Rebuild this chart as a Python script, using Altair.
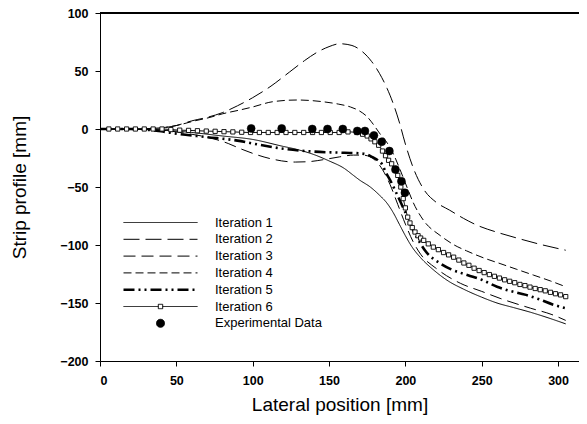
import altair as alt
import pandas as pd

names = ["Iteration 1", "Iteration 2", "Iteration 3", "Iteration 4",
         "Iteration 5", "Iteration 6", "Experimental Data"]

it1_x = [0, 20, 40, 60, 80, 100, 120, 127, 140, 150, 160, 166, 170, 177, 183, 188, 192, 196, 200, 204, 210, 218, 228, 238, 250, 260, 271, 282, 294, 305]
it1_y = [0, -0.3, -1, -3, -6, -9, -15, -17, -22, -27.5, -34, -40, -44, -50, -57, -64, -72, -82, -92, -101, -111, -121, -131, -138, -145, -150, -154, -158, -163, -168]

it2_x = [0, 20, 40, 50, 60, 70, 80, 90, 100, 112, 124, 134, 142, 150, 157, 165, 172, 178, 183, 188, 192, 196, 200, 205, 212, 220, 229, 238, 247, 260, 273, 290, 305]
it2_y = [0, 0, 1, 3, 7, 10, 14, 20, 27, 37, 49, 59, 66, 71, 73.5, 72, 66.5, 58, 48, 35, 22, 6, -13, -33, -52, -63, -70, -77, -83, -89, -94, -100, -104.5]

it3_x = [0, 20, 40, 50, 60, 70, 84, 92, 100, 113, 128, 138, 146, 157, 166, 172, 177, 181, 185, 190, 195, 200, 205, 210, 220, 236, 250, 262, 282, 296, 305]
it3_y = [0, 0, -1, -2.5, -4.5, -7, -12.5, -17, -21, -26, -28.5, -28, -26.5, -24, -22.5, -22.5, -24, -28, -35, -48, -65, -82, -97, -108, -120, -133, -140, -146, -154.5, -160, -165]

it4_x = [0, 20, 40, 50, 62, 72, 80, 92, 100, 113, 129, 146, 156, 164, 170, 175, 179, 183, 187, 190, 193, 196.5, 201, 205, 212, 223, 232, 240, 251, 262, 273, 284, 295, 305]
it4_y = [0, 0, 1, 3, 7, 10, 13, 16.5, 19, 23.5, 25, 23.5, 21.5, 19, 15.5, 10.5, 4, -3.5, -10, -16, -24, -35, -50, -63, -79, -92, -100, -105, -111, -116, -121, -126, -131, -136]

it5_x = [0, 20, 40, 50, 70, 90, 100, 120, 140, 160, 170, 175, 178, 182, 185, 187, 190, 194, 200, 205, 210, 213, 223, 230, 241, 250, 260, 267, 279, 287, 297, 305]
it5_y = [0, 0, -2, -4, -7, -10, -12.5, -17, -19.5, -20.5, -21, -22, -24, -27, -31, -37, -44, -55, -72, -87, -99, -105, -116, -121, -126, -130, -136, -139, -143, -146.5, -151.5, -154.5]

it6_x = [0, 5.8, 11.6, 17.4, 23.2, 29, 34.8, 40.6, 46.4, 52.2, 58, 63.8, 69.6, 75.4, 81.2, 87, 92.8,
         98.6, 104.4, 110.2, 116, 121.8, 127.6, 133.4, 139.2, 145, 150.8, 156.6, 162.4, 168.2,
         172, 175, 177.5, 180, 182.5, 185, 187, 189, 191, 193, 195, 197, 198.6, 200, 201.5, 203, 204.5, 206.3, 208.3, 210,
         212, 215, 218.3, 221.6, 225, 228.3, 231.6, 235, 238.3, 241.6, 245, 248.3, 251.6, 255, 258.3, 261.6, 265,
         268.3, 271.6, 275, 278.3, 281.6, 285, 288.3, 291.6, 295, 298.3, 301.6, 305]
it6_y = [0, 0, 0, 0, 0, 0, 0, 0, -0.5, -1, -1.2, -1.5, -1.8, -2, -2.3, -2.5, -2.8,
         -3, -3, -3, -3, -3, -3, -3, -3, -3, -3, -3, -2.5, -3,
         -4.5, -6, -8.5, -11, -14, -19, -23, -27, -30, -34, -40, -50, -60, -68, -76, -81, -85, -88.8, -92, -94,
         -96, -99, -101.8, -104, -106.5, -108.5, -110.5, -113, -115.5, -117.5, -120, -122, -123.8, -125.5, -127, -128.5, -130,
         -131.3, -132.5, -134, -135, -136.3, -137.5, -138.5, -139.5, -140.8, -142, -143, -144.5]

exp_x = [99, 119, 139, 149, 159, 168.5, 173.5, 179.4, 184.5, 189.5, 193.5, 197.4, 199.7]
exp_y = [0.5, 0.5, 0, 0, 0, -1.7, -1.7, -5.5, -11, -19, -35, -45, -55]

x_ticks = [0, 50, 100, 150, 200, 250, 300]
y_ticks = [-200, -150, -100, -50, 0, 50, 100]

rows = []
for name, xs, ys in zip(names[:6], [it1_x, it2_x, it3_x, it4_x, it5_x, it6_x],
                        [it1_y, it2_y, it3_y, it4_y, it5_y, it6_y]):
    n = min(len(xs), len(ys))
    for i in range(n):
        rows.append({"series": name, "x": xs[i], "y": ys[i]})
lines_df = pd.DataFrame(rows)
n6 = min(len(it6_x), len(it6_y))
sq_df = pd.DataFrame({"x": it6_x[1:n6], "y": it6_y[1:n6]})
exp_df = pd.DataFrame({"series": "Experimental Data", "x": exp_x, "y": exp_y})

line_path = "M-9.25,0H9.25"
sq_path = "M-9.25,0H-0.55M0.55,0H9.25M-0.55,-0.55H0.55V0.55H-0.55Z"
dash_range = [[1, 0], [16, 6], [12, 6], [8, 4], [11, 4, 2, 4, 2, 4], [1, 0], [1, 0]]
width_range = [1, 1, 1, 1, 2.6, 1, 1]
shape_range = [line_path] * 5 + [sq_path, "circle"]
fill_range = ["transparent"] * 5 + ["white", "black"]
stroke_range = ["black"] * 7

leg = alt.Legend(orient="none", legendX=54, legendY=203, title=None, labelOffset=48,
                 rowPadding=2.8, labelFontSize=13, labelFont="Liberation Sans",
                 labelColor="black", padding=0, symbolSize=64, symbolStrokeColor="black")

xs = alt.Scale(domain=[0, 313.7], nice=False, zero=False)
ys = alt.Scale(domain=[-200, 100], nice=False)
xax = alt.Axis(values=x_ticks, title="Lateral position [mm]", labelPadding=8, titlePadding=9)
yax = alt.Axis(values=y_ticks, title="Strip profile [mm]", labelPadding=7, titlePadding=30)

lines = alt.Chart(lines_df).mark_line(color="black", interpolate="monotone", strokeCap="butt").encode(
    x=alt.X("x:Q", scale=xs, axis=xax),
    y=alt.Y("y:Q", scale=ys, axis=yax),
    strokeDash=alt.StrokeDash("series:N", scale=alt.Scale(domain=names, range=dash_range), legend=leg),
    strokeWidth=alt.StrokeWidth("series:N", scale=alt.Scale(type="ordinal", domain=names, range=width_range), legend=leg),
)

squares = alt.Chart(sq_df).mark_point(shape="square", size=18, filled=True, fill="white",
                                       stroke="black", strokeWidth=0.9, opacity=1).encode(
    x=alt.X("x:Q", scale=xs), y=alt.Y("y:Q", scale=ys))

exp_pts = alt.Chart(exp_df).mark_point(filled=True, size=64, opacity=1, strokeWidth=0.5).encode(
    x=alt.X("x:Q", scale=xs), y=alt.Y("y:Q", scale=ys),
    shape=alt.Shape("series:N", scale=alt.Scale(domain=names, range=shape_range), legend=leg),
    fill=alt.Fill("series:N", scale=alt.Scale(domain=names, range=fill_range), legend=leg),
    stroke=alt.Stroke("series:N", scale=alt.Scale(domain=names, range=stroke_range), legend=leg),
)

top = alt.Chart(exp_df).mark_rule(color="black", strokeWidth=1).encode(y=alt.datum(100))

chart = alt.layer(lines, squares, exp_pts, top).properties(
    width=479, height=348,
    padding={"left": 92, "top": 5, "right": 0, "bottom": 54},
    autosize=alt.AutoSizeParams(type="none"),
).configure_view(stroke=None).configure_axis(
    labelFont="Liberation Sans", labelFontWeight="bold", labelFontSize=12.5, labelColor="black",
    titleFont="Liberation Sans", titleFontSize=19, titleFontWeight="normal", titleColor="black",
    domainColor="black", tickColor="black", tickSize=5, grid=False,
)

chart.save("out.html", embed_options={"renderer": "svg", "actions": False})
